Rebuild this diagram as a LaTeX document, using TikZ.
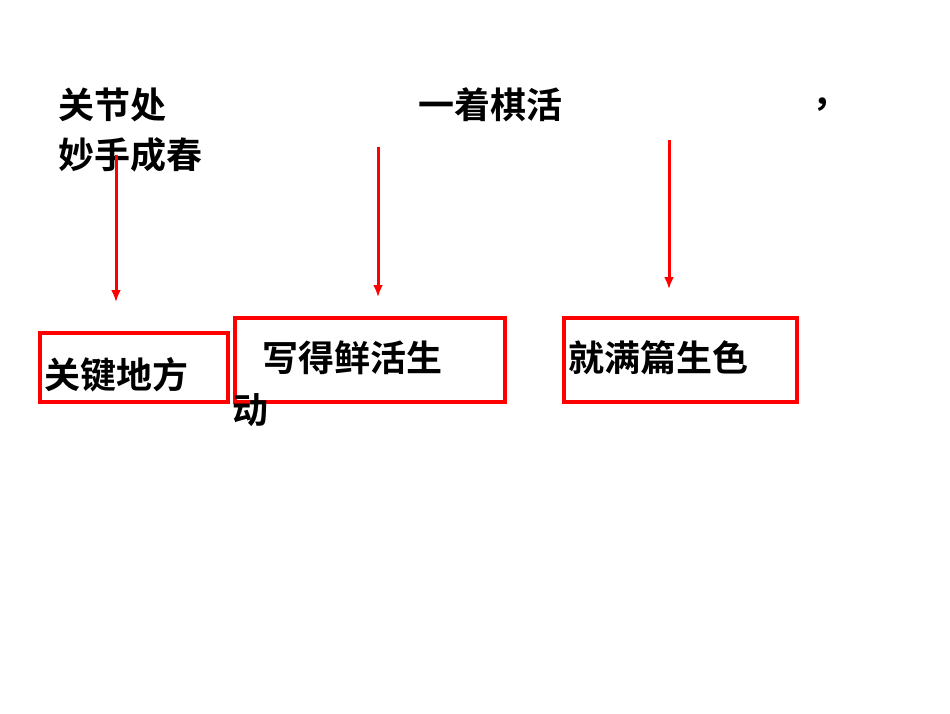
\documentclass[tikz,border=0pt]{standalone}
\usepackage{fontspec}
\newfontfamily\cjk{Noto Sans CJK SC}[BoldFont={Noto Sans CJK SC Bold}]
\begin{document}
\begin{tikzpicture}[x=1pt,y=-1pt,
  txt/.style={font=\cjk\bfseries\fontsize{36}{40}\selectfont,inner sep=0pt,anchor=west},
  arr/.style={red,line width=3pt,-{Latex[length=12pt,width=10pt]}},
  rbox/.style={draw=red,line width=3.5pt}]
\usetikzlibrary{arrows.meta}
\useasboundingbox (0,0) rectangle (950,713);
\node[txt] (t1) at (58,105) {关节处};
\node[txt] (t2) at (58,155) {妙手成春};
\node[txt] (t3) at (418,105) {一着棋活};
\node[txt] (t4) at (812,105) {，};
\coordinate (a1s) at (116,155); \coordinate (a1e) at (116,302);
\coordinate (a2s) at (378,147); \coordinate (a2e) at (378,297);
\coordinate (a3s) at (669,140); \coordinate (a3e) at (669,289);
\draw[arr] (a1s) -- (a1e);
\draw[arr] (a2s) -- (a2e);
\draw[arr] (a3s) -- (a3e);
\draw[rbox] (40,333) rectangle (228,402);
\draw[rbox] (235,318) rectangle (505,402);
\draw[rbox] (564,318) rectangle (797,402);
\node[txt] (b1) at (44,375) {关键地方};
\node[txt] (b2) at (262,358) {写得鲜活生};
\node[txt] (b3) at (232,410) {动};
\node[txt] (b4) at (568,358) {就满篇生色};
\end{tikzpicture}
\end{document}
